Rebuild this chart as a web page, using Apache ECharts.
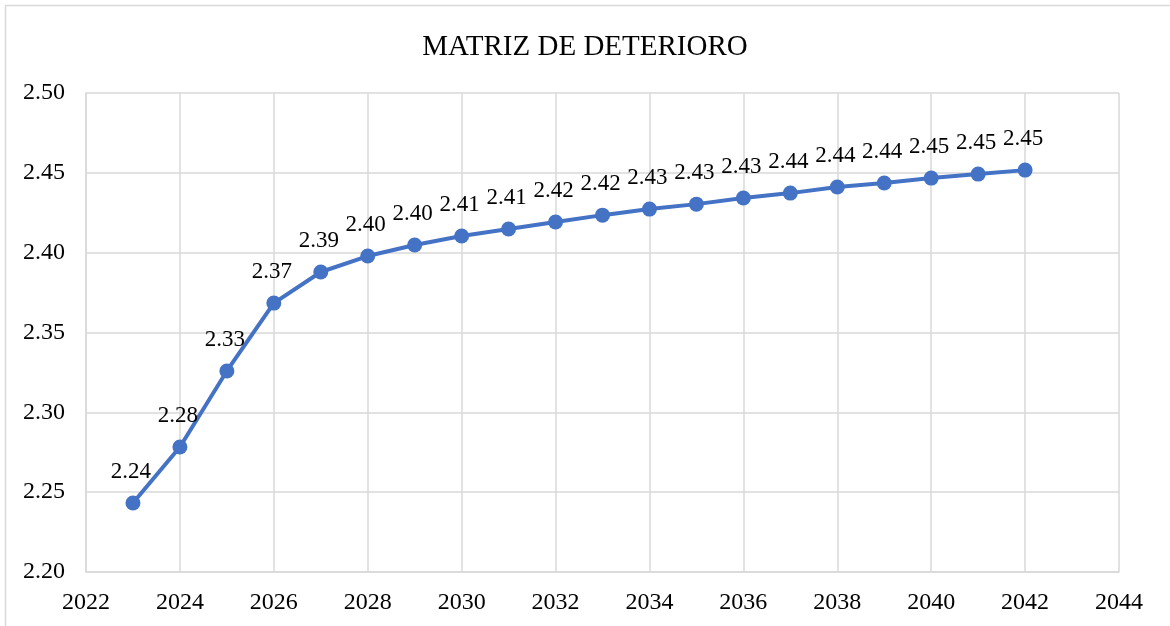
<!DOCTYPE html>
<html>
<head>
<meta charset="utf-8">
<style>
  html, body { margin: 0; padding: 0; background: #ffffff; }
  #chart { width: 1170px; height: 626px; }
</style>
<script src="https://cdn.jsdelivr.net/npm/echarts@6/dist/echarts.min.js"></script>
</head>
<body>
<div id="chart"></div>
<script>
// Deterioration index by year
const years = [2023, 2024, 2025, 2026, 2027, 2028, 2029, 2030, 2031, 2032,
               2033, 2034, 2035, 2036, 2037, 2038, 2039, 2040, 2041, 2042];
const values = [2.2432, 2.2783, 2.3259, 2.3684, 2.3879, 2.3979, 2.4048, 2.4104, 2.4148, 2.4192,
                2.4235, 2.4273, 2.4304, 2.4342, 2.4373, 2.4411, 2.4436, 2.4467, 2.4492, 2.4517];
const titleText = 'MATRIZ DE DETERIORO';

const serif = '"Liberation Serif", "Times New Roman", serif';
const gridColor = '#d9d9d9';

const chart = echarts.init(document.getElementById('chart'));
chart.setOption({
  animation: false,
  backgroundColor: '#ffffff',
  // chart frame, running past the right and bottom edges of the canvas
  graphic: [{
    type: 'rect',
    shape: { x: 5.5, y: 5.5, width: 1200, height: 640 },
    style: { fill: 'none', stroke: '#d9d9d9', lineWidth: 1.5 },
    silent: true
  }],
  title: {
    text: titleText,
    left: 'center',
    top: 28,
    textStyle: { fontFamily: serif, fontSize: 29, fontWeight: 'normal', color: '#000000' }
  },
  grid: { left: 86, right: 51, top: 93, bottom: 54, containLabel: false },
  xAxis: {
    type: 'value',
    min: 2022,
    max: 2044,
    interval: 2,
    axisLine: { show: true, lineStyle: { color: gridColor, width: 1.5 } },
    axisTick: { show: false },
    splitLine: { show: true, lineStyle: { color: gridColor, width: 1.5 } },
    axisLabel: {
      fontFamily: serif, fontSize: 24, color: '#000000', margin: 19,
      formatter: v => String(v)
    }
  },
  yAxis: {
    type: 'value',
    min: 2.2,
    max: 2.5,
    interval: 0.05,
    axisLine: { show: true, lineStyle: { color: gridColor, width: 1.5 } },
    axisTick: { show: false },
    splitLine: { show: true, lineStyle: { color: gridColor, width: 1.5 } },
    axisLabel: {
      fontFamily: serif, fontSize: 24, color: '#000000', margin: 21,
      formatter: v => v.toFixed(2)
    }
  },
  series: [{
    type: 'line',
    data: years.map((y, i) => [y, values[i]]),
    symbol: 'circle',
    symbolSize: 15,
    lineStyle: { color: '#4472C4', width: 4 },
    itemStyle: { color: '#4472C4' },
    label: {
      show: true,
      position: 'top',
      distance: 12,
      offset: [-2, 0],
      fontFamily: serif,
      fontSize: 23,
      color: '#000000',
      formatter: p => p.value[1].toFixed(2)
    }
  }]
});
</script>
</body>
</html>
